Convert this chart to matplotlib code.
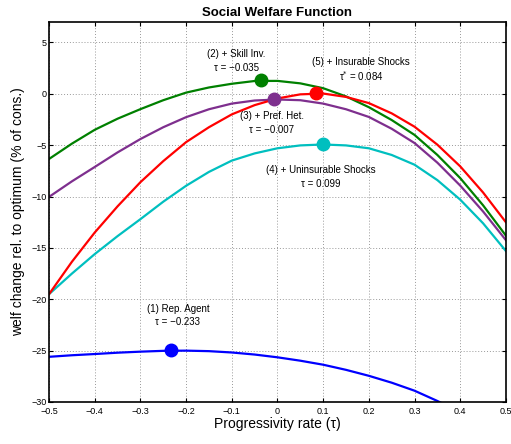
import matplotlib
matplotlib.use('Agg')
import matplotlib.pyplot as plt

plt.rcParams['font.family'] = ['Liberation Sans', 'DejaVu Sans']

# progressivity grid (values every 0.05)
tau = [-0.5, -0.45, -0.4, -0.35, -0.3, -0.25, -0.2, -0.15, -0.1, -0.05, 0.0,
       0.05, 0.1, 0.15, 0.2, 0.25, 0.3, 0.35, 0.4, 0.45, 0.5]
tick_x = [-0.5, -0.4, -0.3, -0.2, -0.1, 0.0, 0.1, 0.2, 0.3, 0.4, 0.5]

rep_tau = tau[:19]
rep_agent = [-25.6, -25.45, -25.33, -25.2, -25.1, -25.02, -25.0, -25.05, -25.18, -25.38,
             -25.65, -25.98, -26.37, -26.87, -27.45, -28.12, -28.9, -29.9, -31.0]
skill_inv = [-6.34, -4.85, -3.5, -2.42, -1.49, -0.62, 0.12, 0.62, 0.98, 1.25, 1.26,
             1.02, 0.55, -0.25, -1.3, -2.55, -4.0, -5.95, -8.2, -10.85, -13.8]
pref_het = [-10.03, -8.52, -7.12, -5.7, -4.4, -3.25, -2.27, -1.5, -0.95, -0.65, -0.55,
            -0.62, -0.95, -1.5, -2.25, -3.4, -4.79, -6.7, -8.93, -11.45, -14.24]
insurable = [-19.5, -16.35, -13.5, -10.95, -8.6, -6.55, -4.7, -3.25, -2.0, -1.1, -0.45,
             -0.05, 0.03, -0.3, -0.9, -1.9, -3.2, -4.95, -7.06, -9.6, -12.5]
uninsurable = [-19.5, -17.5, -15.6, -13.85, -12.2, -10.5, -8.95, -7.6, -6.5, -5.8, -5.3,
               -5.02, -4.93, -5.02, -5.3, -5.95, -6.9, -8.4, -10.3, -12.6, -15.3]

opt_tau = [-0.233, -0.035, -0.007, 0.099, 0.084]
opt_val = [-24.98, 1.3, -0.55, -4.92, 0.05]
colors = ['#0000ff', '#008000', '#7e2f8e', '#00bfbf', '#ff0000']
names = ['(1) Rep. Agent', '(2) + Skill Inv.', '(3) + Pref. Het.',
         '(4) + Uninsurable Shocks', '(5) + Insurable Shocks']
tau_labels = ['τ = \u22120.233', 'τ = \u22120.035', 'τ = \u22120.007',
              'τ = 0.099', 'τ$^{*}$ = 0.084']
label_pos = [(-0.218, -20.9), (-0.09, 3.9), (-0.012, -2.2), (0.095, -7.4), (0.183, 3.1)]

fig = plt.figure(figsize=(5.11, 4.44), dpi=100)
ax = fig.add_axes([0.096, 0.0946, 0.894, 0.856])

series = [(rep_tau, rep_agent), (tau, skill_inv), (tau, pref_het), (tau, uninsurable), (tau, insurable)]
for (xs, ys), c in zip(series, colors):
    ax.plot(xs, ys, color=c, linewidth=1.6, solid_joinstyle='round')
for t, v, c in zip(opt_tau, opt_val, colors):
    ax.plot(t, v, 'o', color=c, markersize=9, zorder=5)

for (x, y), n, tl in zip(label_pos, names, tau_labels):
    ax.text(x, y, n, ha='center', va='center', fontsize=7)
    ax.text(x, y - 1.35, tl, ha='center', va='center', fontsize=7)

ax.set_xlim(-0.5, 0.5)
ax.set_ylim(-30, 7)
ax.set_xticks(tick_x)
ax.set_xticklabels(['\u22120.5', '\u22120.4', '\u22120.3', '\u22120.2', '\u22120.1', '0',
                    '0.1', '0.2', '0.3', '0.4', '0.5'])
ax.set_yticks(range(-30, 6, 5))
ax.set_yticklabels(['\u221230', '\u221225', '\u221220', '\u221215', '\u221210', '\u22125', '0', '5'])
ax.tick_params(direction='in', top=True, right=True, labelsize=6.5, length=3, pad=2)
ax.tick_params(axis='x', pad=3.5)
ax.grid(True, linestyle=(0, (1, 2)), color='#999999', linewidth=0.7)
for s in ax.spines.values():
    s.set_linewidth(1.2)

ax.set_xlabel('Progressivity rate (τ)', fontsize=10, labelpad=1)
ax.set_ylabel('welf change rel. to optimum (% of cons.)', fontsize=10, labelpad=4)
ax.set_title('Social Welfare Function', fontsize=9.5, fontweight='bold', pad=4)

fig.savefig('out.png', dpi=100)
